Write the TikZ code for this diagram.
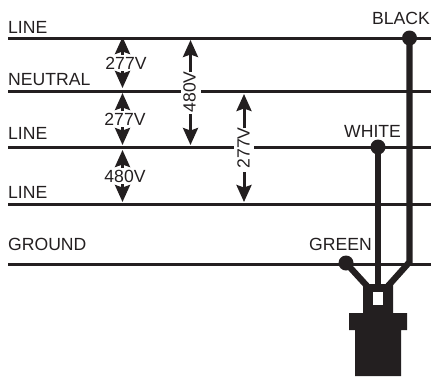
\documentclass[tikz,border=0pt]{standalone}
\usepackage{fontspec}
\setmainfont{Liberation Sans}
\usetikzlibrary{arrows.meta}
\definecolor{ink}{HTML}{231F20}
\tikzset{
  busline/.style={draw=ink,line width=3pt},
  wirebus/.style={draw=ink,line width=6.3pt,line join=miter},
  dotnode/.style={circle,fill=ink,inner sep=0pt,minimum size=15pt},
  lab/.style={text=ink,font=\fontsize{17.6}{18}\selectfont,inner sep=0pt,anchor=base west},
  volt/.style={text=ink,font=\fontsize{17.6}{18}\selectfont,inner sep=0pt},
  voltgap/.style={volt,rotate=90,inner xsep=2pt,inner ysep=0pt},
  voltarrow/.style={draw=ink,line width=3pt,-{Stealth[length=17pt,width=15pt,inset=2.5pt]}},
  plugbody/.style={fill=ink,draw=none}
}
\begin{document}
\begin{tikzpicture}[x=1pt,y=-1pt]
\useasboundingbox (0,0) rectangle (431,376);
% bus lines
\foreach \n/\y in {a/38,b/91,c/147,d/204,e/264}{
  \coordinate (\n L) at (8,\y);
  \coordinate (\n R) at (431,\y);
  \draw[busline] (\n L) -- (\n R);
}
% gaps in the bus lines behind the long arrows
\fill[white] (181,88) rectangle (201,94);
\fill[white] (234,144) rectangle (254,150);
% labels
\node[lab] (l1) at (8,33) {LINE};
\node[lab] (l2) at (8,85) {NEUTRAL};
\node[lab] (l3) at (8,139) {LINE};
\node[lab] (l4) at (8,198) {LINE};
\node[lab] (l5) at (8,250) {GROUND};
\node[lab] (lb) at (372,24) {BLACK};
\node[lab] (lw) at (344,137) {WHITE};
\node[lab] (lg) at (309,250) {GREEN};
% short voltage arrows
\coordinate (t1) at (122.5,37);  \coordinate (u1) at (122.5,88);
\coordinate (t2) at (122.5,93);  \coordinate (u2) at (122.5,145);
\coordinate (t3) at (122.5,150); \coordinate (u3) at (122.5,202);
\coordinate (m1) at (122.5,63);  \coordinate (m2) at (122.5,119); \coordinate (m3) at (122.5,176);
\draw[voltarrow] (m1) ++(0,-8) -- (t1);
\draw[voltarrow] (m1) ++(0,8) -- (u1);
\draw[voltarrow] (m2) ++(0,-8) -- (t2);
\draw[voltarrow] (m2) ++(0,8) -- (u2);
\draw[voltarrow] (m3) ++(0,-8) -- (t3);
\draw[voltarrow] (m3) ++(0,8) -- (u3);
\node[volt] (v1) at (126,63.5) {277V};
\node[volt] (v2) at (125,119.5) {277V};
\node[volt] (v3) at (125,176.5) {480V};
% long voltage arrows
\node[voltgap] (v4) at (189.5,92) {480V};
\node[voltgap] (v5) at (243.5,148) {277V};
\coordinate (t4) at (190.5,40);  \coordinate (u4) at (190.5,145);
\coordinate (t5) at (244,94);  \coordinate (u5) at (244,202);
\draw[voltarrow] (190.5,72) -- (t4);
\draw[voltarrow] (190.5,114) -- (u4);
\draw[voltarrow] (244,128) -- (t5);
\draw[voltarrow] (244,172) -- (u5);
% plug
\fill[plugbody] (363,284) -- (393,284) -- (393,313) -- (407,313) -- (407,330) -- (401,330)
  -- (401,376) -- (355,376) -- (355,330) -- (349,330) -- (349,313) -- (363,313) -- cycle;
\fill[white] (372.5,292) rectangle (383,305);
\coordinate (pg) at (367,286);
\coordinate (pw) at (378,290);
\coordinate (pb) at (388,286);
\coordinate (kb) at (409.5,262);
% wires and dots
\node[dotnode] (db) at (409.5,38) {};
\node[dotnode] (dw) at (378,147) {};
\node[dotnode] (dg) at (346,263) {};
\draw[wirebus] (db.center) -- (kb) -- (pb);
\draw[wirebus] (dw.center) -- (pw);
\draw[wirebus] (dg.center) -- (pg);
\end{tikzpicture}
\end{document}
